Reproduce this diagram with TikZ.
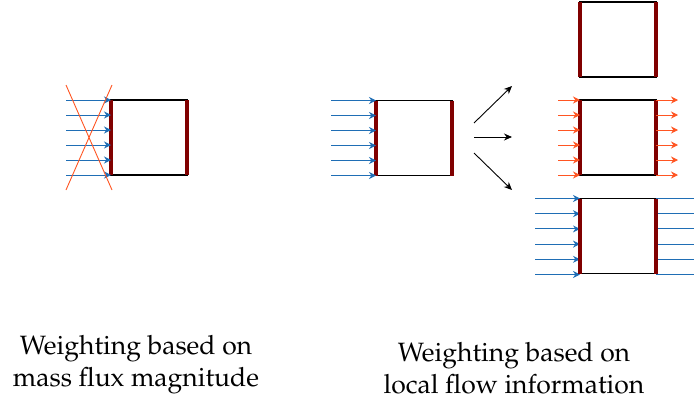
\documentclass[tikz,border=0pt]{standalone}
\usepackage[T1]{fontenc}
\usepackage{mathpazo}
\usetikzlibrary{arrows.meta,calc}
\definecolor{flowblue}{RGB}{31,110,181}
\definecolor{floworange}{RGB}{255,85,34}
\definecolor{wallred}{RGB}{128,0,0}
\tikzset{
  cell/.style={draw=black, line width=1.8pt, minimum width=76pt, minimum height=75pt,
    inner sep=0pt, outer sep=0pt, fill=white},
  wall/.style={wallred, line width=3.2pt},
  inflow/.style={-{Stealth[length=7pt,width=7pt]}, line width=1pt},
  fanarrow/.style={-{Stealth[length=8pt,width=7pt]}, line width=0.9pt, black},
  caption/.style={align=center, font=\fontsize{26.5}{32}\selectfont, inner sep=0pt},
}
\newcommand{\cellwalls}[1]{%
  \draw[wall] (#1.north west) -- (#1.south west);
  \draw[wall] (#1.north east) -- (#1.south east);
}
\begin{document}
\begin{tikzpicture}[x=1pt,y=-1pt]
\useasboundingbox (0,0) rectangle (694,402);

% cells
\node[cell] (A) at (149,137.5) {};
\node[cell] (B) at (414,138) {};
\node[cell] (C1) at (618,39.5) {};
\node[cell] (C2) at (618,137.5) {};
\node[cell] (C3) at (618,236) {};
\foreach \c in {A,B,C1,C2,C3} {\cellwalls{\c}}

% incoming mass flux on the left cells
\foreach \i in {0,...,5} {
  \draw[inflow, flowblue] ($(A.north west)+(-45,\i*15)$) -- ($(A.north west)+(0,\i*15)$);
  \draw[inflow, flowblue] ($(B.north west)+(-45,\i*15)$) -- ($(B.north west)+(0,\i*15)$);
}

% crossed-out weighting
\draw[floworange, line width=0.9pt] (66,85) -- (112,190);
\draw[floworange, line width=0.9pt] (112,85) -- (66,190);

% possible outcomes
\coordinate (F1) at (474,123);
\coordinate (F2) at (474,137);
\coordinate (F3) at (474,153);
\coordinate (T1) at (512,86);
\coordinate (T2) at (512,137);
\coordinate (T3) at (512,190);
\draw[fanarrow] (F1) -- (T1);
\draw[fanarrow] (F2) -- (T2);
\draw[fanarrow] (F3) -- (T3);

% through-flow on the middle cell
\foreach \i in {0,...,5} {
  \draw[inflow, floworange] ($(C2.north west)+(-22,\i*15)$) -- ($(C2.north west)+(0,\i*15)$);
  \draw[inflow, floworange] ($(C2.north east)+(0,\i*15)$) -- ($(C2.north east)+(22,\i*15)$);
}

% through-flow on the lower cell
\foreach \i in {0,...,5} {
  \draw[inflow, flowblue] ($(C3.north west)+(-45,\i*15.2)$) -- ($(C3.north west)+(0,\i*15.2)$);
  \draw[line width=1pt, flowblue] ($(C3.north east)+(0,\i*15.2)$) -- ($(C3.north east)+(38,\i*15.2)$);
}
\cellwalls{C3}

% captions
\node[caption] (capL) at (136,365) {Weighting based on\\mass flux magnitude};
\node[caption] (capR) at (514,368) {Weighting based on\\local flow information};
\end{tikzpicture}
\end{document}
